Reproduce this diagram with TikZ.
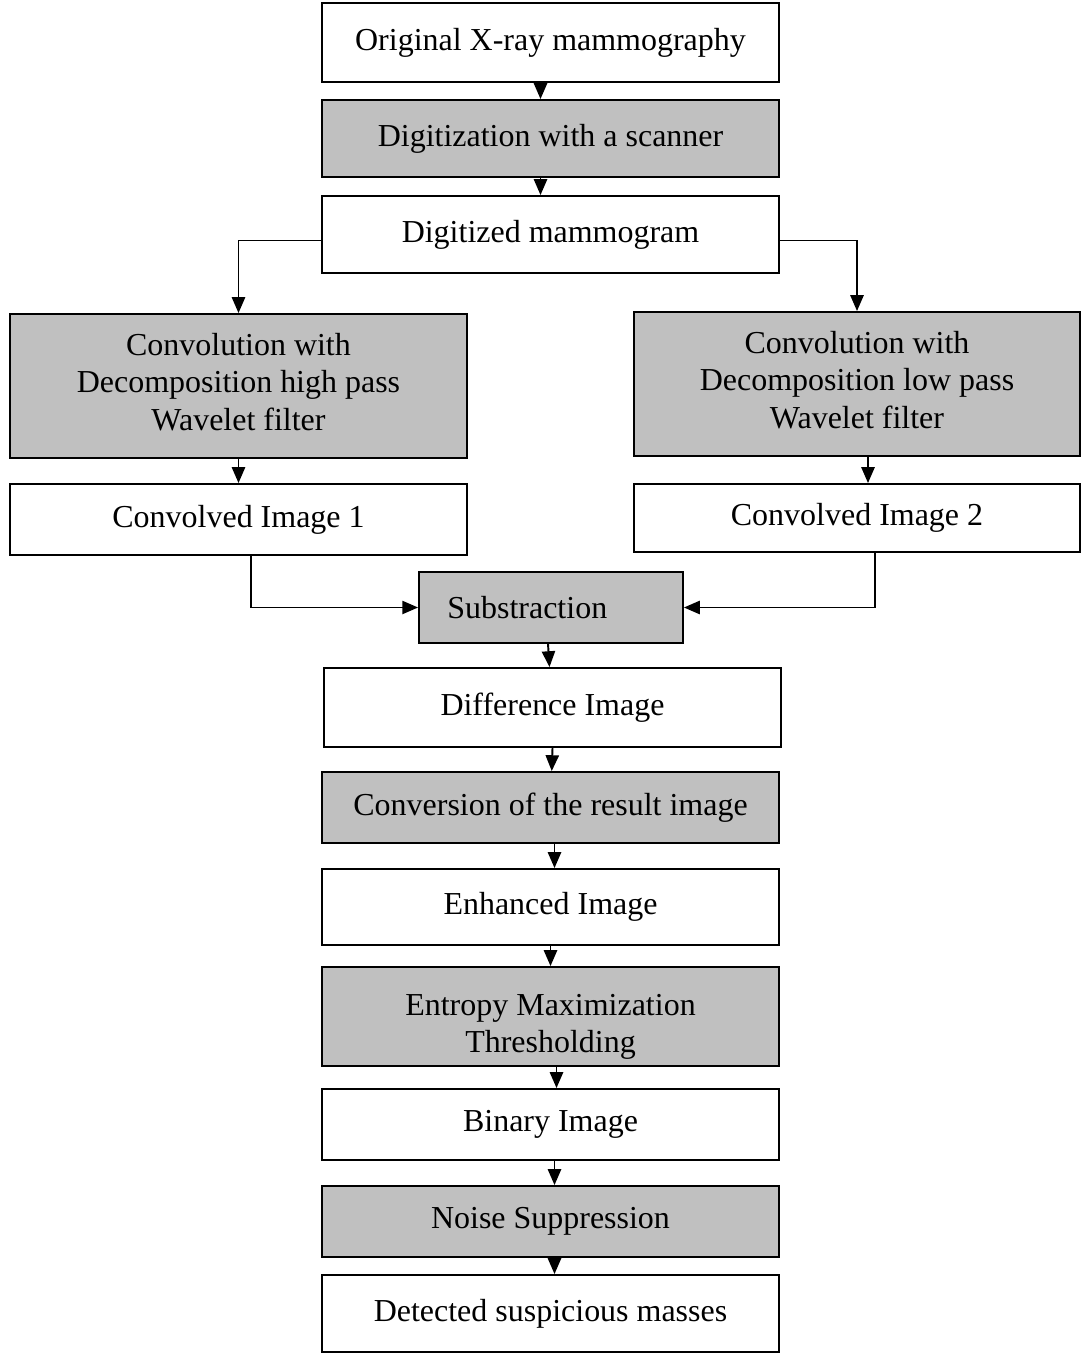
\documentclass[tikz,border=0pt]{standalone}
\usepackage{fontspec}
\setmainfont{Liberation Serif}
\usetikzlibrary{arrows.meta}
\definecolor{boxgray}{HTML}{C0C0C0}
\tikzset{
  stage/.style={draw,line width=1.1pt,fill=white,align=center,
    font=\fontsize{18.2}{21.3}\selectfont,inner sep=0pt,
    minimum width=9.14cm,minimum height=#1},
  stage/.default=1.55cm,
  proc/.style={stage=#1,fill=boxgray},
  proc/.default=1.5cm
}
\begin{document}
\begin{tikzpicture}[x=0.02cm,y=-0.02cm]
    \useasboundingbox (0,0) rectangle (1081,1354);
    \node[stage=1.58cm] (orig) at (550.5,42.5) {Original X-ray mammography};
    \node[proc=1.54cm] (scan) at (550.5,138.5) {Digitization with a scanner};
    \node[stage=1.54cm] (digi) at (550.5,234.5) {Digitized mammogram};
    \node[proc=2.88cm] (hipass) at (238.5,386) {Convolution with\\Decomposition high pass\\Wavelet filter\\[-16.5pt]};
    \node[proc=2.88cm,minimum width=8.92cm] (lopass) at (857,384) {Convolution with\\Decomposition low pass\\Wavelet filter\\[-16.5pt]};
    \node[stage=1.42cm] (conv1) at (238.5,519.5) {Convolved Image 1};
    \node[stage=1.36cm,minimum width=8.92cm] (conv2) at (857,518) {Convolved Image 2};
    \node[proc=1.42cm,minimum width=5.28cm] (subs) at (551,607.5) {Substraction\hspace*{27pt}};
    \node[stage=1.58cm] (diff) at (552.5,707.5) {Difference Image};
    \node[proc=1.42cm] (convres) at (550.5,807.5) {Conversion of the result image};
    \node[stage=1.52cm] (enh) at (550.5,907) {Enhanced Image};
    \node[proc=1.98cm] (entropy) at (550.5,1016.5) {Entropy Maximization\\Thresholding\\[-29.3pt]};
    \node[stage=1.42cm] (binary) at (550.5,1124.5) {Binary Image};
    \node[proc=1.42cm] (noise) at (550.5,1221.5) {Noise Suppression};
    \node[stage=1.54cm] (masses) at (550.5,1313.5) {Detected suspicious masses};
    \begin{scope}[line width=1.1pt,-{Triangle[length=9pt,width=7.5pt]}]
      \draw ([xshift=-0.2cm]orig.south) -- ([xshift=-0.2cm]scan.north);
      \draw ([xshift=-0.2cm]scan.south) -- ([xshift=-0.2cm]digi.north);
      \draw ([yshift=-0.12cm]digi.west) -| (hipass.north);
      \draw ([yshift=-0.12cm]digi.east) -| (lopass.north);
      \draw (hipass.south) -- (conv1);
      \draw ([xshift=0.22cm]lopass.south) -- ([xshift=0.22cm]conv2.north);
      \draw ([xshift=0.25cm]conv1.south) |- (subs.west);
      \draw ([xshift=0.36cm]conv2.south) |- (subs.east);
      \draw ([xshift=-0.06cm]subs.south) -- ([xshift=-0.06cm]diff.north);
      \draw (diff.south) -- (convres);
      \draw ([xshift=0.08cm]convres.south) -- ([xshift=0.08cm]enh.north);
      \draw (enh.south) -- (entropy);
      \draw ([xshift=0.12cm]entropy.south) -- ([xshift=0.12cm]binary.north);
      \draw ([xshift=0.08cm]binary.south) -- ([xshift=0.08cm]noise.north);
      \draw ([xshift=0.08cm]noise.south) -- ([xshift=0.08cm]masses.north);
    \end{scope}
  \end{tikzpicture}
\end{document}
